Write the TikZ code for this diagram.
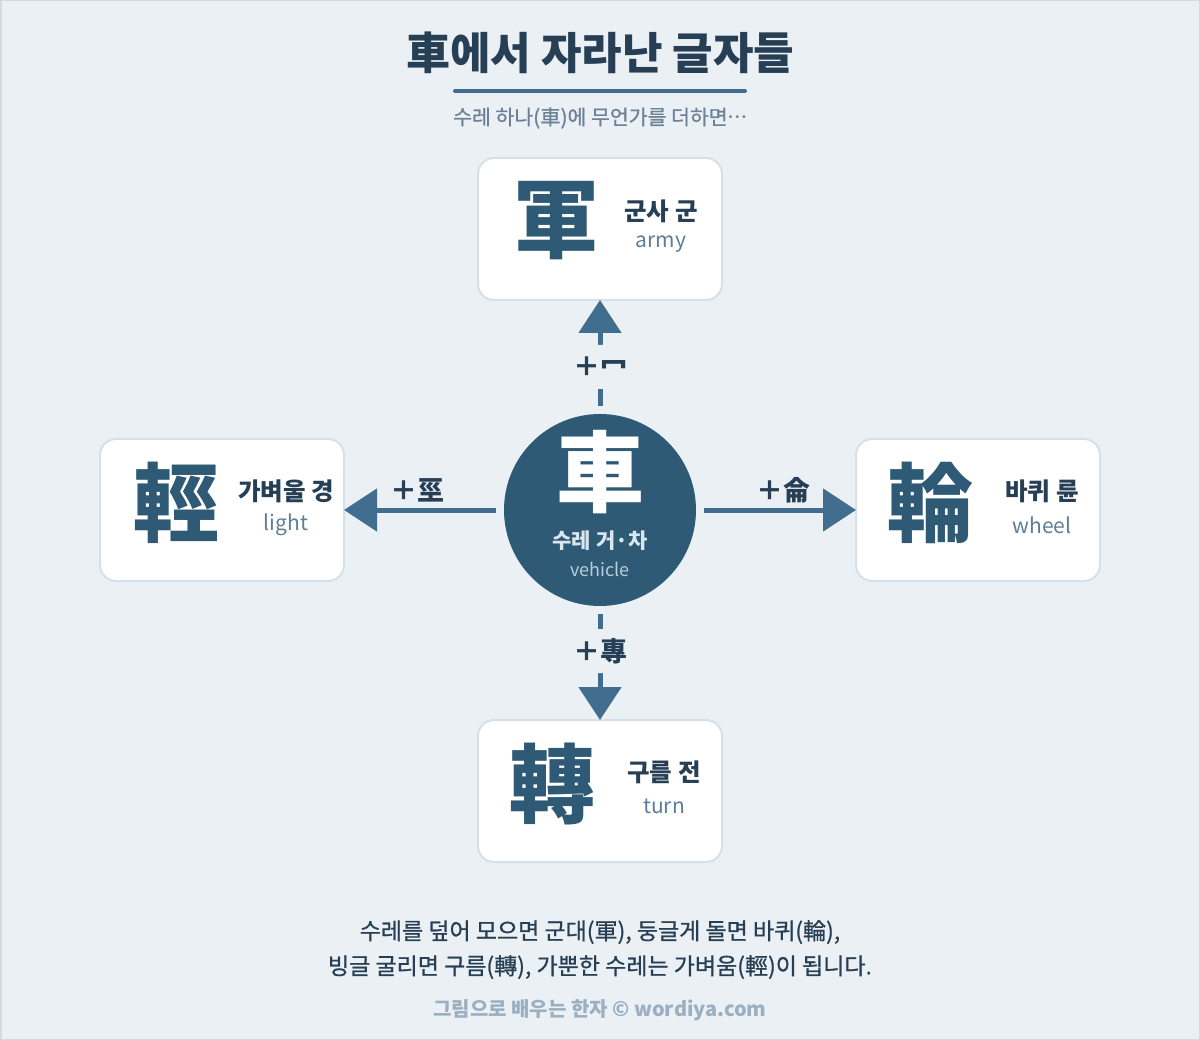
\documentclass[tikz,border=0pt]{standalone}
\usepackage{fontspec}
\setmainfont{Noto Sans CJK KR}
\newfontfamily\medfont{Noto Sans CJK KR}[FakeBold=0.8]
\usetikzlibrary{arrows.meta}
\definecolor{bg}{HTML}{EBF0F5}
\definecolor{frame}{HTML}{CFDCE6}
\definecolor{navy}{HTML}{2E5A75}
\definecolor{ink}{HTML}{263F55}
\definecolor{line}{HTML}{416E8E}
\definecolor{sub}{HTML}{6A8196}
\definecolor{eng}{HTML}{5E7E96}
\definecolor{boxline}{HTML}{D4E1EA}
\definecolor{foot}{HTML}{9AAFC1}
\definecolor{pale}{HTML}{D8E6F0}
\definecolor{paler}{HTML}{B9CEDC}
\newcommand{\fs}[1]{\fontsize{#1}{#1}\selectfont}
\newcommand{\middots}{\raisebox{0.33em}{.\kern0.05em.\kern0.05em.}}
\tikzset{
  card/.style={draw=boxline, line width=2pt, fill=white, rounded corners=16pt,
    minimum width=244pt, minimum height=142pt, outer sep=0pt},
  bighan/.style={text=navy, font=\fs{86}\bfseries, inner sep=0pt},
  kor/.style={text=ink, font=\fs{24.5}\bfseries, inner sep=0pt},
  engl/.style={text=eng, font=\fs{21}, inner sep=0pt},
  conn/.style={draw=line, line width=5pt, shorten <=8pt,
    -{Triangle[length=33pt,width=42pt]}},
  lab/.style={text=ink, font=\fs{27}\bfseries, fill=bg, inner sep=3pt, rounded corners=6pt},
}
\begin{document}
\begin{tikzpicture}[x=1pt,y=-1pt]
\useasboundingbox (0,0) rectangle (1200,1040);
\fill[bg] (0,0) rectangle (1200,1040);
\draw[frame, line width=1.5pt] (0.75,0.75) rectangle (1199.25,1039.25);

% title
\node[text=ink, font=\fs{44}\bfseries, inner sep=0pt] (title) at (600,53) {車에서 자라난 글자들};
\draw[line, line width=4pt, line cap=round] (455,91) -- (745,91);
\node[text=sub, font=\fs{20.5}\medfont, inner sep=0pt] (subt) at (600,118) {수레 하나(車)에 무언가를 더하면\middots};

% cards
\node[card] (top) at (600,229) {};
\node[card] (left) at (222,510) {};
\node[card] (right) at (978,510) {};
\node[card] (bot) at (600,791) {};

% center circle
\node[circle, fill=navy, minimum size=192pt, inner sep=0pt, outer sep=0pt] (c) at (600,510) {};
\node[text=white, font=\fs{88}\bfseries, inner sep=0pt] (ch) at (600,472) {車};
\node[text=pale, font=\fs{21}\bfseries, inner sep=0pt] (ck) at (600,541) {수레 거·차};
\node[text=paler, font=\fs{18}, inner sep=0pt] (ce) at (600,569) {vehicle};

% top card contents
\node[bighan] (th) at (556,221) {軍};
\node[kor] (tk) at (661,211) {군사 군};
\node[engl] (te) at (661,244) {army};
% left
\node[bighan] (lh) at (176,503) {輕};
\node[kor] (lk) at (286,491) {가벼울 경};
\node[engl] (le) at (286,525) {light};
% right
\node[bighan] (rh) at (930,503) {輪};
\node[kor] (rk) at (1042,491) {바퀴 륜};
\node[engl] (re) at (1042,525) {wheel};
% bottom
\node[bighan] (bh) at (552,784) {轉};
\node[kor] (bk) at (664,772) {구를 전};
\node[engl] (be) at (664,806) {turn};

% connectors
\draw[conn] (c) -- (top);
\draw[conn] (c) -- (bot);
\draw[conn] (c) -- (left);
\draw[conn] (c) -- (right);

% connector labels
\node[lab, minimum height=44pt] (lt) at (600,367) {＋冖};
\node[lab, minimum height=44pt] (lb) at (600,651) {＋專};
\node[lab] (ll) at (417,490) {＋巠};
\node[lab] (lr) at (783,490) {＋侖};

% bottom text
\node[text=ink, font=\fs{23}\medfont, inner sep=0pt] (t1) at (600,932) {수레를 덮어 모으면 군대(軍), 둥글게 돌면 바퀴(輪),};
\node[text=ink, font=\fs{23}\medfont, inner sep=0pt] (t2) at (600,967) {빙글 굴리면 구름(轉), 가뿐한 수레는 가벼움(輕)이 됩니다.};
\node[text=foot, font=\fs{20}\bfseries, inner sep=0pt] (ft) at (600,1010) {그림으로 배우는 한자 © wordiya.com};
\end{tikzpicture}
\end{document}
